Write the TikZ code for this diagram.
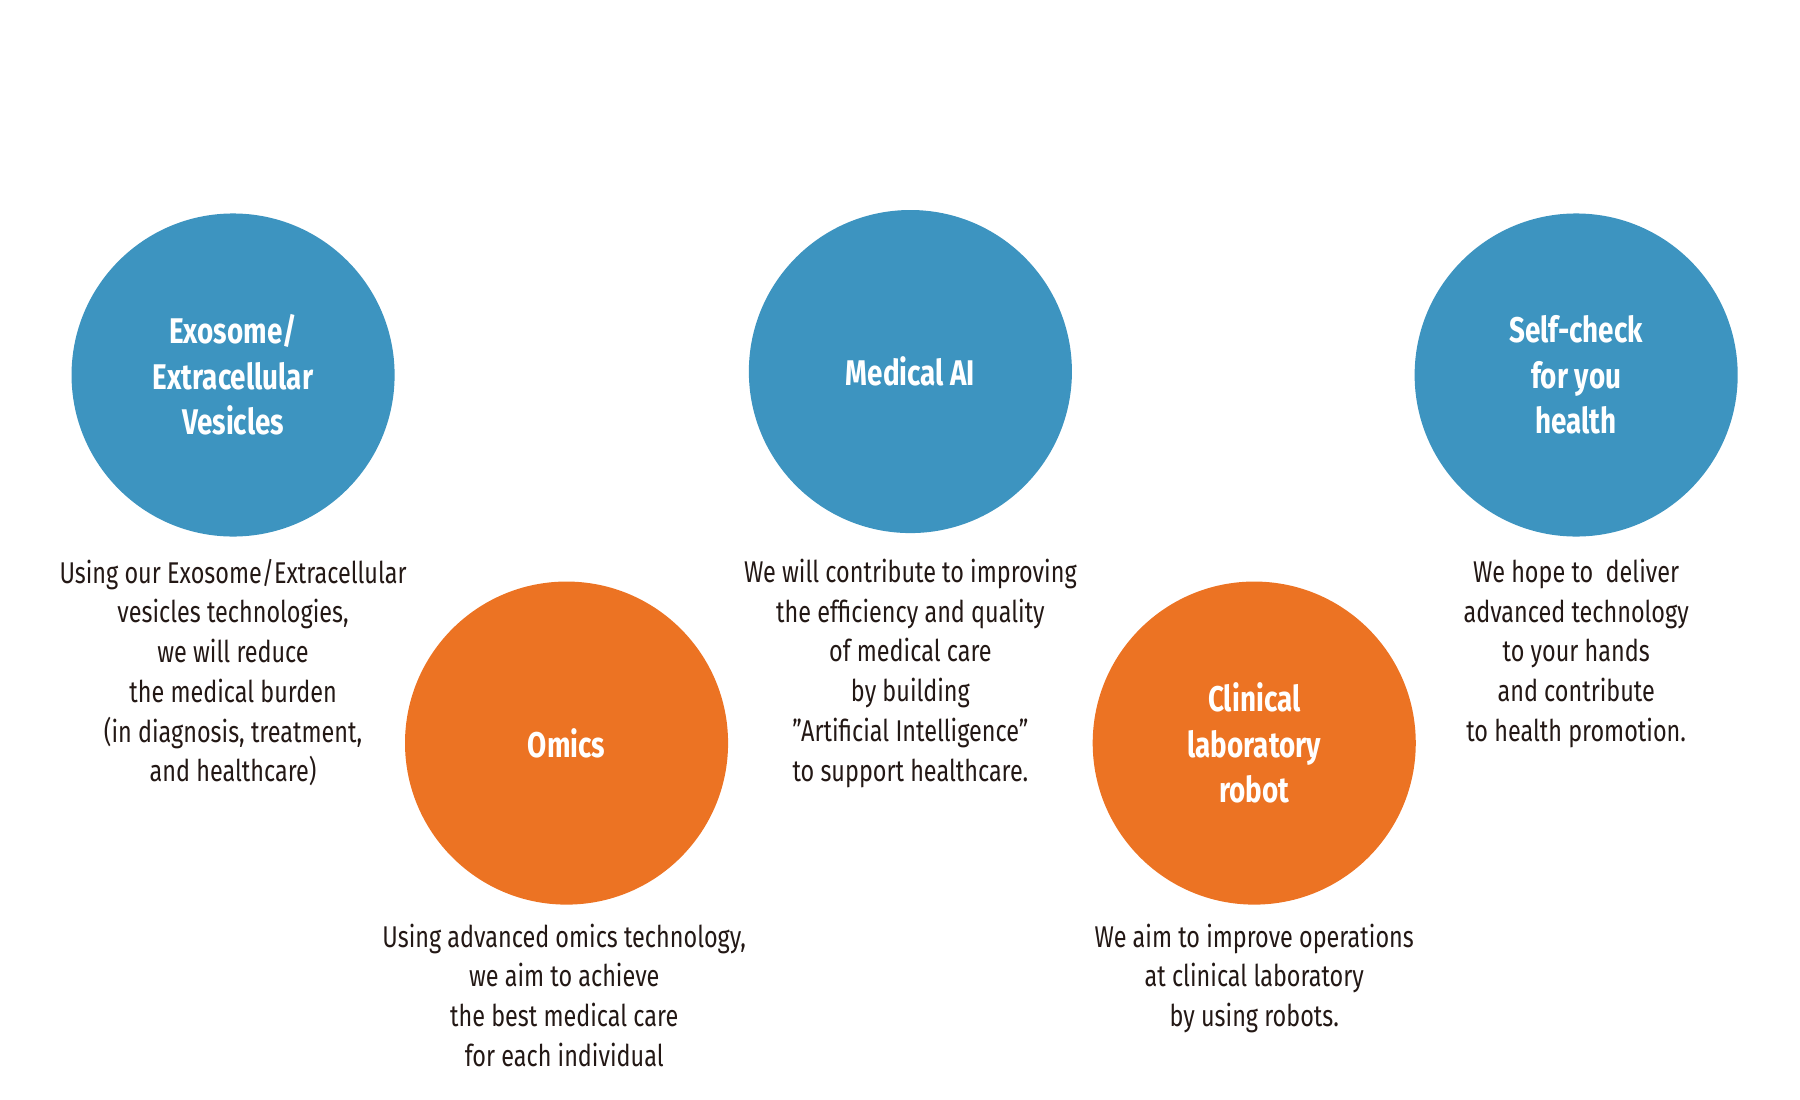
\documentclass[tikz,border=0pt]{standalone}
\usepackage{fontspec}
\setmainfont{Fira Sans}[FakeStretch=0.78]
\definecolor{cblue}{HTML}{3D94C0}
\definecolor{corange}{HTML}{EC7323}
\definecolor{ctext}{HTML}{231815}
\begin{document}
\begin{tikzpicture}[x=0.05cm,y=-0.05cm,
 circ/.style={circle,minimum size=280*0.05cm,inner sep=0,text=white,align=center,font=\fontsize{44}{56}\selectfont\bfseries},
 desc/.style={align=center,text=ctext,font=\fontsize{37}{49}\selectfont}]
\useasboundingbox (0,0) rectangle (1560,953);
\node[circ,fill=cblue] (exo) at (202,325) {Exosome/\\Extracellular\\Vesicles};
\node[circ,fill=cblue] (ai) at (789,322) {Medical AI};
\node[circ,fill=cblue] (self) at (1366,325) {Self-check\\for you\\health};
\node[circ,fill=corange] (omics) at (491,644) {Omics};
\node[circ,fill=corange] (robot) at (1087,644) {Clinical\\laboratory\\robot};
\node[desc,anchor=north] (dexo) at (202,482) {Using our Exosome/Extracellular\\vesicles technologies,\\we will reduce\\the medical burden\\(in diagnosis, treatment,\\and healthcare)};
\node[desc,anchor=north] (dai) at (789,482) {We will contribute to improving\\the efficiency and quality\\of medical care\\by building\\"Artificial Intelligence"\\to support healthcare.};
\node[desc,anchor=north] (dself) at (1366,482) {We hope to\ \ deliver\\advanced technology\\to your hands\\and contribute\\to health promotion.};
\node[desc,anchor=north] (domics) at (489,798) {Using advanced omics technology,\\we aim to achieve\\the best medical care\\for each individual};
\node[desc,anchor=north] (drobot) at (1087,798) {We aim to improve operations\\at clinical laboratory\\by using robots.};
\end{tikzpicture}
\end{document}
